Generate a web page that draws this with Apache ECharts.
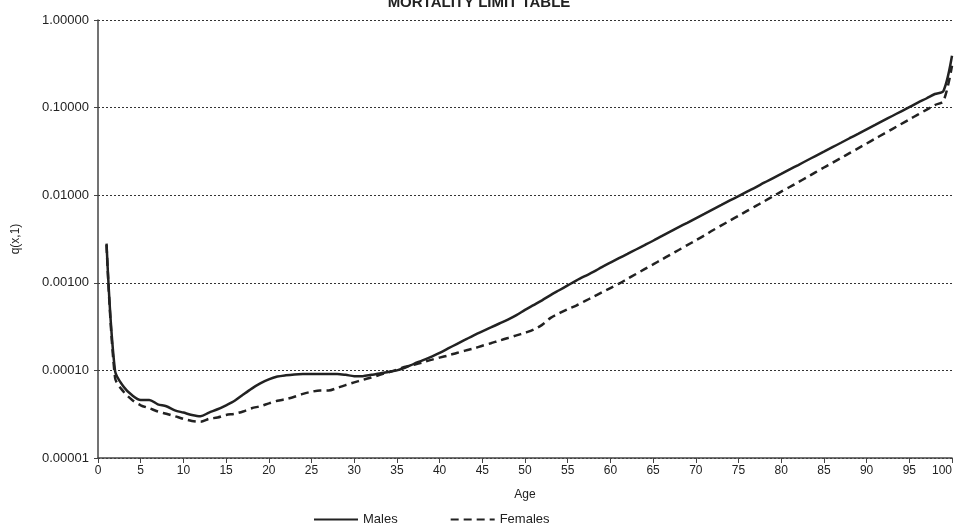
<!DOCTYPE html>
<html>
<head>
<meta charset="utf-8">
<title>Mortality limit table</title>
<script src="https://cdn.jsdelivr.net/npm/echarts@6/dist/echarts.min.js"></script>
<style>
  html, body { margin: 0; padding: 0; background: #fff; }
  #chart { width: 958px; height: 529px; }
</style>
</head>
<body>
<div id="chart"></div>
<script>
// ages 1..100
var ages = [];
for (var a = 1; a <= 100; a++) ages.push(a);

// q(x,1)
var males = [
  0.0028, 0.000098, 0.000065, 0.000052, 0.000046, 0.000046, 0.000041, 0.000039, 0.000035, 0.000033,
  0.000031, 0.000030, 0.000033, 0.000036, 0.000040, 0.000045, 0.000053, 0.000062, 0.000071, 0.000079,
  0.000085, 0.000088, 0.000090, 0.000091, 0.000091, 0.000091, 0.000091, 0.000091, 0.000089, 0.000086,
  0.000086, 0.000089, 0.000092, 0.000096, 0.000100, 0.000108, 0.000119, 0.000130, 0.000143, 0.000158,
  0.000178, 0.000200, 0.000224, 0.000251, 0.000279, 0.000309, 0.000343, 0.000380, 0.000427, 0.000490,
  0.000556, 0.000631, 0.000724, 0.000822, 0.000933, 0.00106, 0.00119, 0.00133, 0.00151, 0.00170,
  0.00191, 0.00214, 0.00240, 0.00269, 0.00302, 0.00341, 0.00384, 0.00432, 0.00484, 0.00545,
  0.00612, 0.00689, 0.00774, 0.00871, 0.00977, 0.0110, 0.0123, 0.0139, 0.0156, 0.0175,
  0.0197, 0.0221, 0.0249, 0.0280, 0.0314, 0.0353, 0.0397, 0.0447, 0.0501, 0.0564,
  0.0634, 0.0713, 0.0802, 0.0902, 0.101, 0.114, 0.127, 0.143, 0.155, 0.39
];

var females = [
  0.0027, 0.000082, 0.000057, 0.000046, 0.000040, 0.000037, 0.000034, 0.000032, 0.000030, 0.000028,
  0.0000265, 0.000026, 0.000028, 0.000029, 0.000031, 0.000032, 0.000034, 0.000037, 0.000039, 0.000042,
  0.000045, 0.000047, 0.000050, 0.000054, 0.000057, 0.000059, 0.000059, 0.000063, 0.000068, 0.000073,
  0.000078, 0.000083, 0.000089, 0.000095, 0.000102, 0.000110, 0.000116, 0.000123, 0.000132, 0.000140,
  0.000148, 0.000158, 0.000168, 0.000178, 0.000191, 0.000204, 0.000219, 0.000234, 0.000251, 0.000269,
  0.000292, 0.000331, 0.000398, 0.000447, 0.000501, 0.000550, 0.000617, 0.000692, 0.000776, 0.000871,
  0.000977, 0.00111, 0.00126, 0.00143, 0.00162, 0.00184, 0.00209, 0.00237, 0.00269, 0.00305,
  0.00347, 0.00398, 0.00452, 0.00513, 0.00582, 0.00661, 0.00750, 0.00851, 0.00966, 0.0110,
  0.0124, 0.0141, 0.0160, 0.0182, 0.0207, 0.0234, 0.0266, 0.0302, 0.0343, 0.0389,
  0.0442, 0.0501, 0.0569, 0.0646, 0.0733, 0.0832, 0.0944, 0.107, 0.119, 0.30
];

function pairs(vals) {
  var out = [];
  for (var i = 0; i < ages.length; i++) out.push([ages[i], vals[i]]);
  return out;
}

var font = 'Liberation Sans, Arial, sans-serif';
var ink = '#222';

var chart = echarts.init(document.getElementById('chart'));
chart.setOption({
  animation: false,
  title: {
    text: 'MORTALITY LIMIT TABLE',
    left: 'center',
    top: -10,
    textStyle: { fontFamily: font, fontSize: 15, fontWeight: 'bold', color: ink }
  },
  legend: {
    bottom: -2,
    left: 308,
    itemGap: 52,
    itemWidth: 44,
    itemHeight: 12,
    itemStyle: { opacity: 0 },
    textStyle: { fontFamily: font, fontSize: 13, color: ink },
    data: ['Males', 'Females']
  },
  grid: { left: 98, right: 6, top: 20, bottom: 71, outerBoundsMode: 'none' },
  xAxis: {
    type: 'value',
    min: 0,
    max: 100,
    interval: 5,
    name: 'Age',
    nameLocation: 'middle',
    nameGap: 31,
    nameTextStyle: { fontFamily: font, fontSize: 12, color: ink },
    axisLine: { lineStyle: { color: '#444', width: 1.5 } },
    axisTick: { show: true, length: 5, lineStyle: { color: '#444' } },
    axisLabel: { fontFamily: font, fontSize: 12, color: ink, margin: 7, alignMaxLabel: 'right' },
    splitLine: { show: false }
  },
  yAxis: {
    type: 'log',
    logBase: 10,
    min: 0.00001,
    max: 1,
    name: 'q(x,1)',
    nameLocation: 'middle',
    nameGap: 76,
    nameTextStyle: { fontFamily: font, fontSize: 12, color: ink },
    axisLine: { show: true, lineStyle: { color: '#444', width: 1.5 } },
    axisTick: { show: true, length: 4, lineStyle: { color: '#444' } },
    axisLabel: {
      fontFamily: font, fontSize: 13, color: ink, margin: 9,
      formatter: function (v) { return v.toFixed(5); }
    },
    splitLine: { show: true, lineStyle: { color: '#333', type: [2, 2], width: 1 } }
  },
  series: [
    {
      name: 'Males',
      type: 'line',
      symbol: 'none',
      smooth: 0.3,
      data: pairs(males),
      lineStyle: { color: ink, width: 2.5 },
      itemStyle: { color: ink }
    },
    {
      name: 'Females',
      type: 'line',
      symbol: 'none',
      smooth: 0.3,
      data: pairs(females),
      lineStyle: { color: ink, width: 2.5, type: [8, 5] },
      itemStyle: { color: ink }
    }
  ]
});
</script>
</body>
</html>
